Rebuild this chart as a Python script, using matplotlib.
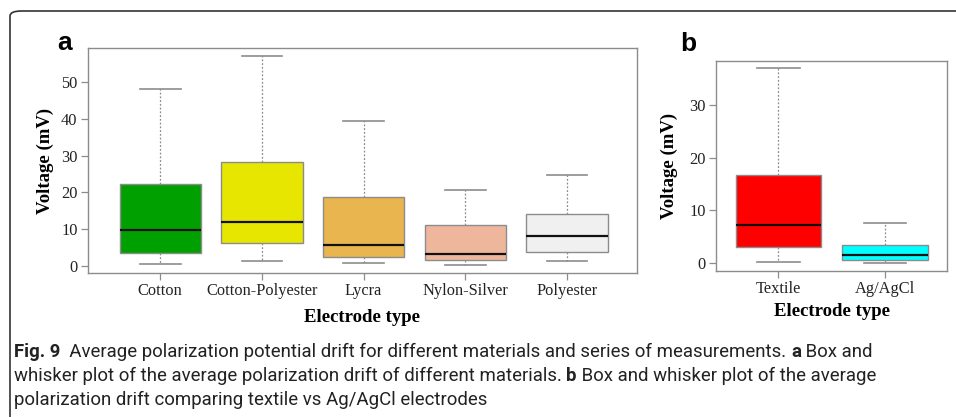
import matplotlib.pyplot as plt
from matplotlib.patches import FancyBboxPatch

# box statistics: low whisker, Q1, median, Q3, high whisker (mV)
materials = ["Cotton", "Cotton-Polyester", "Lycra", "Nylon-Silver", "Polyester"]
mat_low = [0.6, 1.4, 0.8, 0.3, 1.3]
mat_q1 = [3.5, 6.3, 2.4, 1.5, 3.8]
mat_med = [9.7, 12.0, 5.6, 3.2, 8.2]
mat_q3 = [22.3, 28.3, 18.7, 11.1, 14.1]
mat_high = [48.0, 56.9, 39.4, 20.7, 24.6]
mat_colors = ["#00a000", "#e6e600", "#e9b54f", "#eeb79c", "#f0f0f0"]

electrodes = ["Textile", "Ag/AgCl"]
el_low = [0.2, 0.0]
el_q1 = [3.1, 0.6]
el_med = [7.3, 1.6]
el_q3 = [16.7, 3.4]
el_high = [36.9, 7.6]
el_colors = ["#ff0000", "#00ffff"]

caption_lines = [
    ("Fig. 9", "  Average polarization potential drift for different materials and series of measurements. ",
     "a", " Box and"),
    ("", "whisker plot of the average polarization drift of different materials. ", "b",
     " Box and whisker plot of the average"),
    ("", "polarization drift comparing textile vs Ag/AgCl electrodes", "", ""),
]

W, H = 956, 417
fig = plt.figure(figsize=(W / 100, H / 100), dpi=100)
serif = "Liberation Serif"
grey = "#8c8c8c"


def stats(names, low, q1, med, q3, high):
    return [dict(label=n, whislo=a, q1=b, med=c, q3=d, whishi=e, fliers=[])
            for n, a, b, c, d, e in zip(names, low, q1, med, q3, high)]


def draw(ax, st, colors):
    res = ax.bxp(st, widths=0.8, patch_artist=True, showfliers=False,
                 boxprops=dict(edgecolor=grey, linewidth=1.0),
                 whiskerprops=dict(color=grey, linestyle=(0, (1.5, 1.5)), linewidth=0.9),
                 capprops=dict(color=grey, linewidth=1.2),
                 medianprops=dict(color="#111111", linewidth=1.6),
                 capwidths=0.4)
    for b, c in zip(res["boxes"], colors):
        b.set_facecolor(c)
    for s in ax.spines.values():
        s.set_color(grey)
        s.set_linewidth(1.0)
    ax.tick_params(direction="out", color=grey, length=5, width=0.9, labelsize=11.8,
                   labelcolor="#222222", pad=2.5)
    for lab in ax.get_xticklabels() + ax.get_yticklabels():
        lab.set_fontfamily(serif)
    ax.set_ylabel("Voltage (mV)", fontfamily=serif, fontweight="bold", fontsize=13.5)
    ax.set_xlabel("Electrode type", fontfamily=serif, fontweight="bold", fontsize=13.5)


# panel a
ax1 = fig.add_axes([88 / W, 1 - 273 / H, (637 - 88) / W, (273 - 48) / H])
draw(ax1, stats(materials, mat_low, mat_q1, mat_med, mat_q3, mat_high), mat_colors)
ax1.set_xlim(0.29, 5.69)
ax1.set_ylim(-1.9, 59.2)
ax1.set_yticks([0, 10, 20, 30, 40, 50])
ax1.yaxis.labelpad = 5
ax1.xaxis.labelpad = 7

# panel b
ax2 = fig.add_axes([716 / W, 1 - 271 / H, (947 - 716) / W, (271 - 61) / H])
draw(ax2, stats(electrodes, el_low, el_q1, el_med, el_q3, el_high), el_colors)
ax2.set_xlim(0.415, 2.58)
ax2.set_ylim(-1.46, 38.3)
ax2.set_yticks([0, 10, 20, 30])
ax2.yaxis.labelpad = 8
ax2.xaxis.labelpad = 4

fig.text(57 / W, 1 - 43 / H, "a", fontsize=19, fontweight="bold", va="center",
         fontfamily="Liberation Sans")
fig.text(680 / W, 1 - 44 / H, "b", fontsize=19, fontweight="bold", va="center",
         fontfamily="Liberation Sans")

# rounded frame around the figure
frame = FancyBboxPatch((10 / W, -0.2), 1.2, 1.2 - 11 / H,
                       boxstyle="round,pad=0,rounding_size=0.012",
                       transform=fig.transFigure, fill=False,
                       edgecolor="#333333", linewidth=1.2, clip_on=False)
fig.patches.append(frame)

# caption, sized so the first line runs to x ~ 870 px
cap_font = "Roboto"
renderer = fig.canvas.get_renderer()


def write_line(parts, y, size):
    x = 14 / W
    for txt, wt in parts:
        if not txt:
            continue
        t = fig.text(x, 1 - y / H, txt, fontsize=size, fontweight=wt, va="center",
                     fontfamily=cap_font, color="#222222")
        x += t.get_window_extent(renderer).width / W
    return x * W


probe = fig.text(0, 0, "".join(caption_lines[0]), fontsize=13, fontfamily=cap_font)
size = 13 * (870 - 14) / probe.get_window_extent(renderer).width
probe.remove()

ys = [352, 376, 400]
for (fig_lbl, t1, bold, t2), y in zip(caption_lines, ys):
    write_line([(fig_lbl, "bold"), (t1, "normal"), (bold, "bold"), (t2, "normal")], y, size)

fig.savefig("out.png", dpi=100)
